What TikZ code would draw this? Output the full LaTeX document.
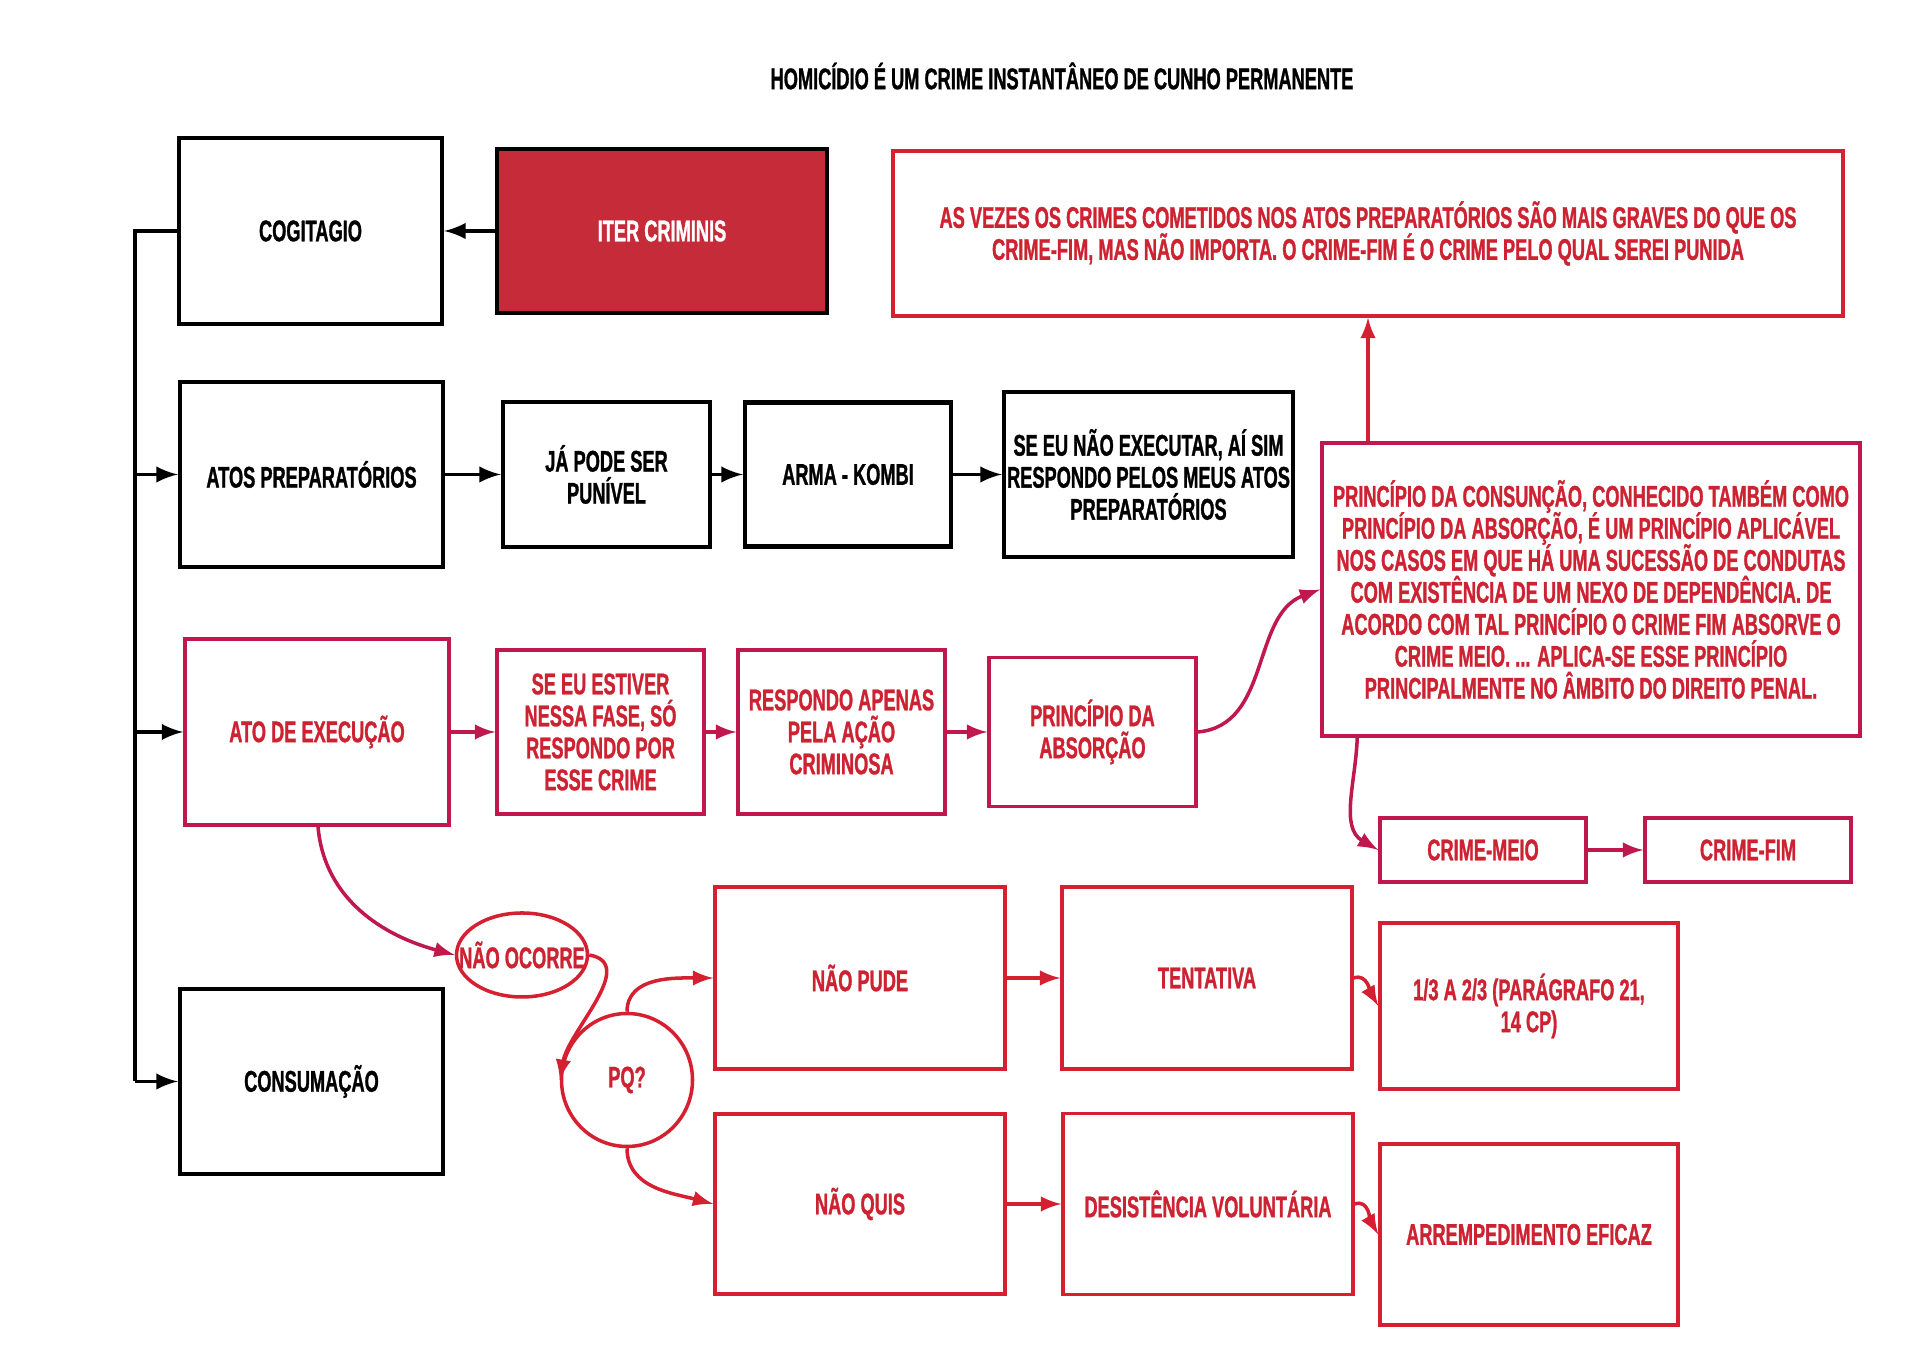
\documentclass[tikz,border=0pt]{standalone}
\usepackage{fontspec}
\setmainfont{Liberation Sans}[FakeStretch=0.61, FakeBold=1]
\usepackage{xcolor}
\usepackage{tikz}
\usetikzlibrary{shapes,arrows,positioning,calc,shapes.geometric}

\definecolor{iterred}{HTML}{C62B3A}
\definecolor{txtred}{HTML}{CC2231}
\definecolor{linered}{HTML}{D42030}
\definecolor{crimson}{HTML}{C0184C}

\newcommand{\diagfont}{\bfseries\fontsize{8.5}{9.1}\selectfont\lineskiplimit=-20pt\relax}

\begin{document}
\begin{tikzpicture}[
  >=latex,
  every node/.style={font=\diagfont, align=center, inner sep=0pt},
  boxsize/.style 2 args={minimum width=#1cm, minimum height=#2cm},
  blackbox/.style={draw=black, line width=1.2pt, text=black},
  redbox/.style={draw=linered, line width=1pt, text=txtred},
  crimbox/.style={draw=crimson, line width=1pt, text=txtred},
  blackline/.style={->, line width=1.1pt},
  redline/.style={->, line width=1pt, linered},
  crimline/.style={->, line width=1pt, crimson}
]
\useasboundingbox (0,0) rectangle (19.2,13.58);

% Title
\node (title) at (10.62,12.82) {HOMICÍDIO É UM CRIME INSTANTÂNEO DE CUNHO PERMANENTE};

% Stages (left column)
\node[blackbox, boxsize={2.63}{1.86}] (cogi) at (3.105,11.27) {COGITAGIO};
\node[blackbox, boxsize={2.63}{1.85}] (atos) at (3.115,8.835) {ATOS PREPARATÓRIOS};
\node[crimbox, boxsize={2.64}{1.86}] (execucao) at (3.17,6.26) {ATO DE EXECUÇÃO};
\node[blackbox, boxsize={2.63}{1.85}] (consumacao) at (3.115,2.765) {CONSUMAÇÃO};

\node[blackbox, fill=iterred, text=white, boxsize={3.30}{1.64}] (iter) at (6.62,11.27) {ITER CRIMINIS};
\node[redbox, boxsize={9.50}{1.65}] (topnote) at (13.68,11.245)
  {AS VEZES OS CRIMES COMETIDOS NOS ATOS PREPARATÓRIOS SÃO MAIS GRAVES DO QUE OS\\
   CRIME-FIM, MAS NÃO IMPORTA. O CRIME-FIM É O CRIME PELO QUAL SEREI PUNIDA};

% Preparatory acts
\node[blackbox, boxsize={2.07}{1.45}] (japode) at (6.065,8.835) {JÁ PODE SER\\PUNÍVEL};
\node[blackbox, boxsize={2.06}{1.44}] (arma) at (8.48,8.835) {ARMA - KOMBI};
\node[blackbox, boxsize={2.89}{1.65}] (naoexec) at (11.485,8.835)
  {SE EU NÃO EXECUTAR, AÍ SIM\\RESPONDO PELOS MEUS ATOS\\PREPARATÓRIOS};

% Execution
\node[crimbox, boxsize={2.07}{1.64}] (estiver) at (6.005,6.26) {SE EU ESTIVER\\NESSA FASE, SÓ\\RESPONDO POR\\ESSE CRIME};
\node[crimbox, boxsize={2.07}{1.64}] (respondo) at (8.415,6.26) {RESPONDO APENAS\\PELA AÇÃO\\CRIMINOSA};
\node[crimbox, boxsize={2.07}{1.49}] (absorcao) at (10.925,6.26) {PRINCÍPIO DA\\ABSORÇÃO};
\node[crimbox, boxsize={5.38}{2.93}] (consun) at (15.91,7.685)
  {PRINCÍPIO DA CONSUNÇÃO, CONHECIDO TAMBÉM COMO\\
   PRINCÍPIO DA ABSORÇÃO, É UM PRINCÍPIO APLICÁVEL\\
   NOS CASOS EM QUE HÁ UMA SUCESSÃO DE CONDUTAS\\
   COM EXISTÊNCIA DE UM NEXO DE DEPENDÊNCIA. DE\\
   ACORDO COM TAL PRINCÍPIO O CRIME FIM ABSORVE O\\
   CRIME MEIO. ... APLICA-SE ESSE PRINCÍPIO\\
   PRINCIPALMENTE NO ÂMBITO DO DIREITO PENAL.};
\node[crimbox, boxsize={2.06}{0.64}] (crmeio) at (14.83,5.08) {CRIME-MEIO};
\node[crimbox, boxsize={2.06}{0.64}] (crfim) at (17.48,5.08) {CRIME-FIM};

% When it does not happen
\node[ellipse, draw=linered, line width=1pt, text=txtred, boxsize={1.31}{0.84}] (naoocorre) at (5.22,4.03) {\makebox[0pt]{NÃO OCORRE}};
\node[ellipse, draw=linered, line width=1pt, text=txtred, boxsize={1.31}{1.33}] (pq) at (6.27,2.78) {PQ?};
\node[redbox, boxsize={2.90}{1.82}] (naopude) at (8.60,3.80) {NÃO PUDE};
\node[redbox, boxsize={2.90}{1.82}] (tentativa) at (12.07,3.80) {TENTATIVA};
\node[redbox, boxsize={2.98}{1.66}] (umterco) at (15.29,3.52) {1/3 A 2/3 (PARÁGRAFO 21,\\14 CP)};
\node[redbox, boxsize={2.90}{1.80}] (naoquis) at (8.60,1.54) {NÃO QUIS};
\node[redbox, boxsize={2.90}{1.81}] (desist) at (12.08,1.54) {DESISTÊNCIA VOLUNTÁRIA};
\node[redbox, boxsize={2.98}{1.81}] (arremp) at (15.29,1.235) {ARREMPEDIMENTO EFICAZ};

% Spine
\coordinate (spine) at ($(cogi.west)+(-0.42,0)$);
\draw[line width=1.1pt] (cogi.west) -- (spine) -- (spine |- consumacao.west);
\draw[blackline] (spine |- atos.west) -- (atos.west);
\draw[blackline] (spine |- execucao.west) -- (execucao.west);
\draw[blackline] (spine |- consumacao.west) -- (consumacao.west);

% Black arrows
\draw[blackline] (iter.west) -- (cogi.east);
\draw[blackline] (atos.east) -- (japode.west);
\draw[blackline] (japode.east) -- (arma.west);
\draw[blackline] (arma.east) -- (naoexec.west);

% Red arrows
\draw[crimline] (execucao.east) -- (estiver.west);
\draw[crimline] (estiver.east) -- (respondo.west);
\draw[crimline] (respondo.east) -- (absorcao.west);
\draw[crimline] (absorcao.east) to[out=5, in=200] (consun.west);
\draw[redline] (consun.north -| topnote.south) -- (topnote.south);
\draw[crimline] ([xshift=0.37cm]consun.south west) to[out=-92, in=150] (crmeio.west);
\draw[crimline] (crmeio.east) -- (crfim.west);
\draw[crimline] ([xshift=0.01cm]execucao.south) to[out=-85, in=165] (naoocorre.west);
\draw[redline] (naoocorre.east) to[out=-10, in=80] (pq.west);
\draw[redline] (pq.north) to[out=90, in=180] (naopude.west);
\draw[redline] (pq.south) to[out=-90, in=165] (naoquis.west);
\draw[redline] (naopude.east) -- (tentativa.west);
\draw[redline] (naoquis.east) -- (naoquis.east -| desist.west);
\draw[redline] (tentativa.east) to[out=20, in=120] (umterco.west);
\draw[redline] (desist.east) to[out=20, in=120] (arremp.west);

\end{tikzpicture}
\end{document}
